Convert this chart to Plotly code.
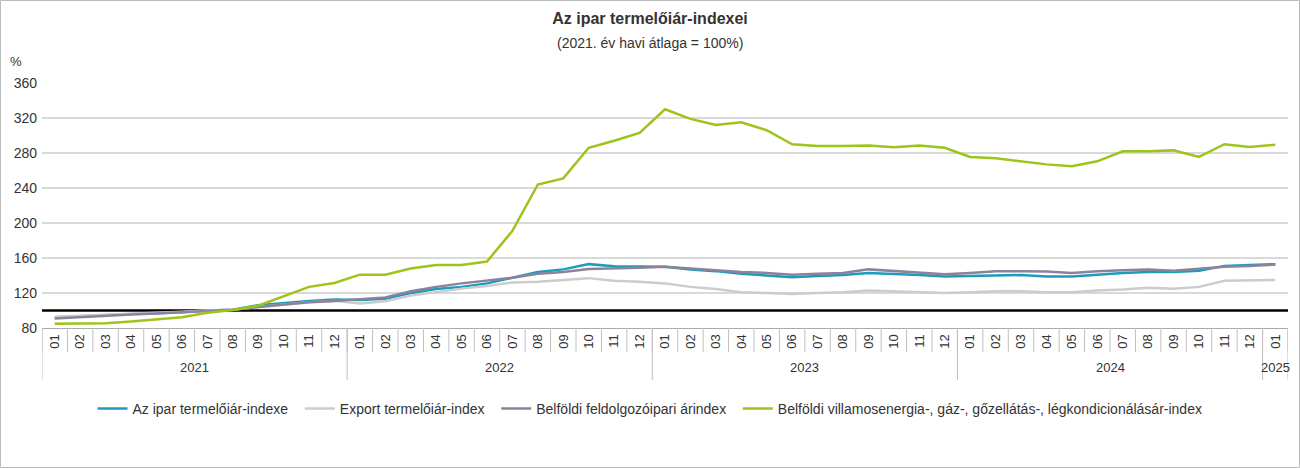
import plotly.graph_objects as go

# ---- data ----
months = ["01", "02", "03", "04", "05", "06", "07", "08", "09", "10", "11", "12"] * 4 + ["01"]
years = ["2021", "2022", "2023", "2024", "2025"]
year_counts = [12, 12, 12, 12, 1]

ipar = [92, 93.5, 95, 96, 97, 98, 100, 101, 106, 108.5, 111, 112.5,
        112, 113.5, 120, 124.5, 127, 131, 137.5, 144, 147, 153, 150.5, 150,
        150, 147, 145, 142, 140, 138, 139.5, 140.5, 143, 142, 140.5, 139,
        139.5, 140.5, 140.5, 139, 139, 141, 143, 144, 144, 145.5, 151, 152,
        153]
export = [93, 94, 95, 96, 97, 98.5, 100, 101, 104, 107, 109.5, 111,
          108, 110.5, 117, 121, 125, 128, 132, 133, 135, 137, 134, 133,
          131, 127, 124.5, 121, 120, 119, 120, 121, 123, 122, 121, 120,
          121, 122, 122, 121, 121, 123, 124, 126, 125, 127, 134, 134.5,
          135]
feldolg = [91, 92.5, 94.5, 95.5, 96.5, 98, 100, 101, 104, 107, 109.5, 111,
           113, 115, 122, 127, 131, 134.5, 137.5, 142, 144, 147.5, 148, 149,
           150, 148, 146, 144, 143, 141, 142, 143, 147, 145, 143, 141.5,
           143, 145, 145, 144.5, 143, 145, 146, 147, 145.5, 147.5, 150, 151,
           152.5]
villamos = [85, 85.5, 85.5, 87.5, 90, 92.4, 97.5, 100.5, 105.4, 116, 127, 131.5,
            141, 141, 148, 152, 152, 156, 191, 244, 251, 286, 294, 303,
            330, 319, 312, 315, 306, 290, 288, 288, 288.5, 286.5, 288.5, 286,
            275.5, 274, 270.5, 267, 265, 270.5, 282, 282, 283, 275.5, 290, 287,
            289.5]

series_names = ["Az ipar termelőiár-indexe", "Export termelőiár-index",
                "Belföldi feldolgozóipari árindex",
                "Belföldi villamosenergia-, gáz-, gőzellátás-, légkondicionálásár-index"]
series_colors = ["#1b9cbd", "#cccccc", "#8c8299", "#9dc41a"]
series_values = [ipar, export, feldolg, villamos]

ytick_vals = [80, 120, 160, 200, 240, 280, 320, 360]
base_value = 100

x = list(range(len(months)))

# ---- layout geometry ----
W, H = 1300, 468
ML, MR, MT, MB = 42, 12, 83, 140
PW, PH = W - ML - MR, H - MT - MB
font_family = "Liberation Sans, Arial, sans-serif"
txt = "#333333"


def px_x(p):
    return (p - ML) / PW


def px_y(p):
    return 1 + (MT - p) / PH


pad = "\u00a0\u2009"

fig = go.Figure()
for k, (name, col, vals) in enumerate(zip(series_names, series_colors, series_values)):
    label = name + (pad if k < len(series_names) - 1 else "")
    fig.add_trace(go.Scatter(x=x, y=vals, mode="lines", name=label,
                             line=dict(color=col, width=2.5),
                             hovertemplate="%{y}<extra>" + name + "</extra>"))

shapes = []
# baseline at 100
shapes.append(dict(type="line", xref="paper", yref="y", x0=0, x1=1,
                   y0=base_value, y1=base_value, layer="between",
                   line=dict(color="#000000", width=2.5)))
# month cell borders
for i in range(len(months) + 1):
    xb = i - 0.5
    shapes.append(dict(type="line", xref="x", yref="paper", x0=xb, x1=xb,
                       y0=0, y1=-24 / PH, line=dict(color="#c0c0c0", width=1)))
# year separators
pos = -0.5
for c in [0] + year_counts:
    pos += c
    shapes.append(dict(type="line", xref="x", yref="paper", x0=pos, x1=pos,
                       y0=0, y1=-52 / PH, line=dict(color="#c0c0c0", width=1)))
# outer border of the figure
shapes.append(dict(type="rect", xref="paper", yref="paper",
                   x0=px_x(0.5), x1=px_x(W - 0.5),
                   y0=px_y(H - 0.5), y1=px_y(0.5),
                   line=dict(color="#bbbbbb", width=1), layer="below"))

annotations = []
# year labels
start = 0
for yr, c in zip(years, year_counts):
    annotations.append(dict(x=start + (c - 1) / 2, y=0, xref="x", yref="paper",
                            text=yr, showarrow=False, yanchor="middle",
                            yshift=-39, font=dict(size=13, color=txt, family=font_family)))
    start += c
annotations.append(dict(x=px_x(16), y=px_y(61), xref="paper", yref="paper", text="%",
                        showarrow=False, xanchor="center", yanchor="middle",
                        font=dict(size=13, color=txt, family=font_family)))
# subtitle
annotations.append(dict(x=px_x(650), y=px_y(43), xref="paper", yref="paper",
                        text="(2021. év havi átlaga = 100%)", showarrow=False,
                        xanchor="center", yanchor="middle",
                        font=dict(size=14, color=txt, family=font_family)))

fig.update_layout(
    width=W, height=H,
    margin=dict(l=ML, r=MR, t=MT, b=MB),
    paper_bgcolor="white", plot_bgcolor="white",
    font=dict(family=font_family, size=13, color=txt),
    title=dict(text="<b>Az ipar termelőiár-indexei</b>", x=0.5, xref="container",
               y=1 - 18 / H, yref="container", xanchor="center", yanchor="middle",
               font=dict(size=16, color=txt, family=font_family)),
    xaxis=dict(range=[-0.5, len(months) - 0.5], tickmode="array", tickvals=x,
               ticktext=months, tickangle=-90, ticks="", showgrid=False,
               zeroline=False, showline=True, linecolor="#aaaaaa", linewidth=1,
               tickfont=dict(size=13, color=txt), fixedrange=True),
    yaxis=dict(range=[80, 360], tickmode="array", tickvals=ytick_vals,
               showgrid=True, gridcolor="#d9d9d9", gridwidth=1.5, zeroline=False,
               ticks="", ticklabelstandoff=4, tickfont=dict(size=14, color=txt),
               fixedrange=True, automargin=False),
    legend=dict(orientation="h", xref="container", yref="container",
                x=0.5, xanchor="center", y=1 - 409 / H, yanchor="middle",
                font=dict(size=14, color=txt), itemwidth=30, tracegroupgap=0),
    shapes=shapes, annotations=annotations, showlegend=True,
)

fig.write_html("out.html", config={"displayModeBar": False},
               post_script="document.body.style.margin='0';")
